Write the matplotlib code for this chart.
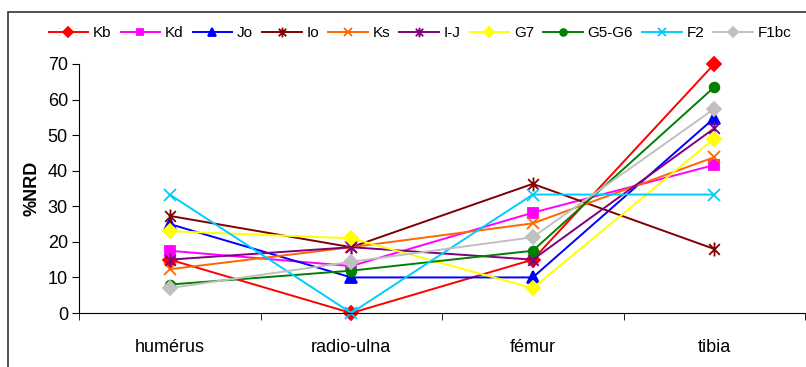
import numpy as np
import matplotlib
matplotlib.use("Agg")
import matplotlib.pyplot as plt
from matplotlib.path import Path
from matplotlib.patches import Rectangle

plt.rcParams['font.family'] = ['Liberation Sans', 'DejaVu Sans']

os_long = ['humérus', 'radio-ulna', 'fémur', 'tibia']

kb = [15, 0, 15, 70]
kd = [17.5, 13.2, 28.2, 41.6]
jo = [25, 10, 10, 54.8]
io = [27.3, 18.5, 36.3, 18]
ks = [12.3, 18.5, 25.2, 43.8]
ij = [15, 18.5, 15, 51.9]
g7 = [23, 21, 7, 49]
g5g6 = [8, 11.9, 17.5, 63.5]
f2 = [33.3, 0, 33.3, 33.3]
f1bc = [7, 14.4, 21.3, 57.4]

# asterisque façon Excel : x + barre verticale
etoile = Path([(-1, -1), (1, 1), (-1, 1), (1, -1), (0, -1.3), (0, 1.3)],
              [Path.MOVETO, Path.LINETO, Path.MOVETO, Path.LINETO, Path.MOVETO, Path.LINETO])

series = [
    ('Kb', kb, '#FF0000', 'D', 7),
    ('Kd', kd, '#FF00FF', 's', 7),
    ('Jo', jo, '#0000FF', '^', 8),
    ('Io', io, '#800000', etoile, 10),
    ('Ks', ks, '#FF6600', 'x', 8),
    ('I-J', ij, '#800080', etoile, 10),
    ('G7', g7, '#FFFF00', 'D', 7),
    ('G5-G6', g5g6, '#008000', 'o', 7),
    ('F2', f2, '#00CCFF', 'x', 8),
    ('F1bc', f1bc, '#C0C0C0', 'D', 7),
]

fig = plt.figure(figsize=(8.06, 3.67), dpi=100)
ax = fig.add_axes([79/806, 1-313/367, (805-79)/806, (313-64)/367])

x = np.arange(len(os_long))
for nom, val, c, m, ms in series:
    ax.plot(x, val, color=c, marker=m, markersize=ms, lw=1.4, label=nom,
            markeredgewidth=1.3, clip_on=False)

ax.set_xlim(-0.5, 3.5)
ax.set_ylim(0, 70)
ax.set_yticks(range(0, 71, 10))
ax.set_xticks(x)
ax.set_xticklabels(os_long)
ax.set_xticks(np.arange(-0.5, 3.6, 1), minor=True)
ax.tick_params(axis='x', which='major', length=0, pad=19, labelsize=13)
ax.tick_params(axis='x', which='minor', length=5, direction='out')
ax.tick_params(axis='y', length=5, direction='out', labelsize=13, pad=3)
for s in ['top', 'right']:
    ax.spines[s].set_visible(False)
ax.set_ylabel('%NRD', fontsize=13, fontweight='bold', labelpad=5)

fig.legend(loc='center', bbox_to_anchor=(420/806, 1-33/367), ncol=10, frameon=False,
           fontsize=11, handlelength=2.6, handletextpad=0.3, columnspacing=0.6,
           markerscale=0.7)

fig.patches.append(Rectangle((8/806, -0.1), 1.2, 1.1 - 12/367, transform=fig.transFigure,
                             fill=False, edgecolor='#333333', lw=1.2))

fig.savefig('out.png', dpi=100)
